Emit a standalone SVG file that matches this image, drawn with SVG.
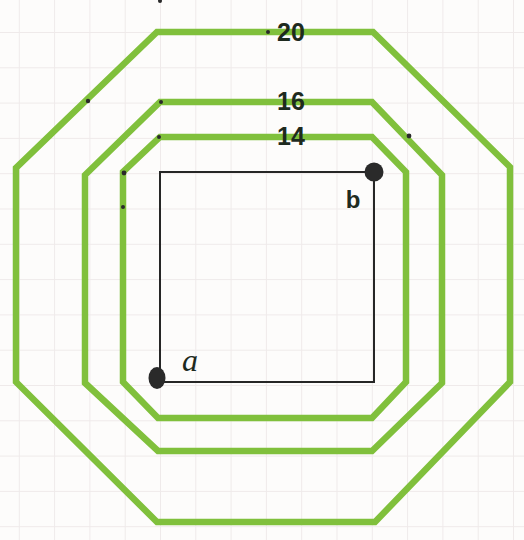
<svg xmlns="http://www.w3.org/2000/svg" width="524" height="540" viewBox="0 0 524 540">
<defs>
<style>
.grid{stroke:#efeaea;stroke-width:1}
.oct{fill:none;stroke:#80c03c;stroke-width:6.5;stroke-linejoin:miter}
.sq{fill:none;stroke:#262626;stroke-width:2}
.dot{fill:#2a2a2a}
.lbl{font-family:"Comic Sans MS","Liberation Sans",sans-serif;fill:#1e2a1e;font-weight:bold}
</style>
<pattern id="g" width="35.3" height="35.3" patternUnits="userSpaceOnUse" x="18.8" y="32">
<path class="grid" d="M0.5 0V35.3M0 0.5H35.3"/>
</pattern>
</defs>
<rect width="524" height="540" fill="#fdfcfb"/>
<rect width="524" height="540" fill="url(#g)"/>
<g id="oct20">
<polygon class="oct" points="157,32 373,32 510,167 510,382 375,522 157,522 16,382 16,168"/>
<text class="lbl" x="291" y="41" font-size="25" text-anchor="middle">20</text>
<circle class="dot" cx="268" cy="32" r="2"/>
</g>
<g id="oct16">
<polygon class="oct" points="160,102 372,102 442,175 442,383 372,451 158,451 85,383 85,175"/>
<text class="lbl" x="291" y="110" font-size="25" text-anchor="middle">16</text>
</g>
<g id="oct14">
<polygon class="oct" points="160,137 372,137 406,172 406,382 372,418 158,418 123,382 123,172"/>
<text class="lbl" x="291" y="145" font-size="25" text-anchor="middle">14</text>
</g>
<g id="dots">
<circle class="dot" cx="160" cy="1" r="2"/>
<circle class="dot" cx="88" cy="101" r="2.2"/>
<circle class="dot" cx="161" cy="102" r="2"/>
<circle class="dot" cx="159" cy="137" r="2"/>
<circle class="dot" cx="409" cy="136" r="2.4"/>
<circle class="dot" cx="124" cy="173" r="2.4"/>
<circle class="dot" cx="123" cy="207" r="2"/>
</g>
<g id="connectors">
<path class="sq" d="M160,378 V172 H374 V198 M374,172 V382 H160"/>
</g>
<g id="a">
<ellipse class="dot" cx="157" cy="378" rx="8.5" ry="11"/>
<text x="190" y="371" font-family="Liberation Serif,serif" font-style="italic" font-size="32" fill="#1e2a1e" text-anchor="middle">a</text>
</g>
<g id="b">
<circle class="dot" cx="374" cy="172" r="9.5"/>
<text class="lbl" x="353" y="208" font-size="24" text-anchor="middle">b</text>
</g>
</svg>
